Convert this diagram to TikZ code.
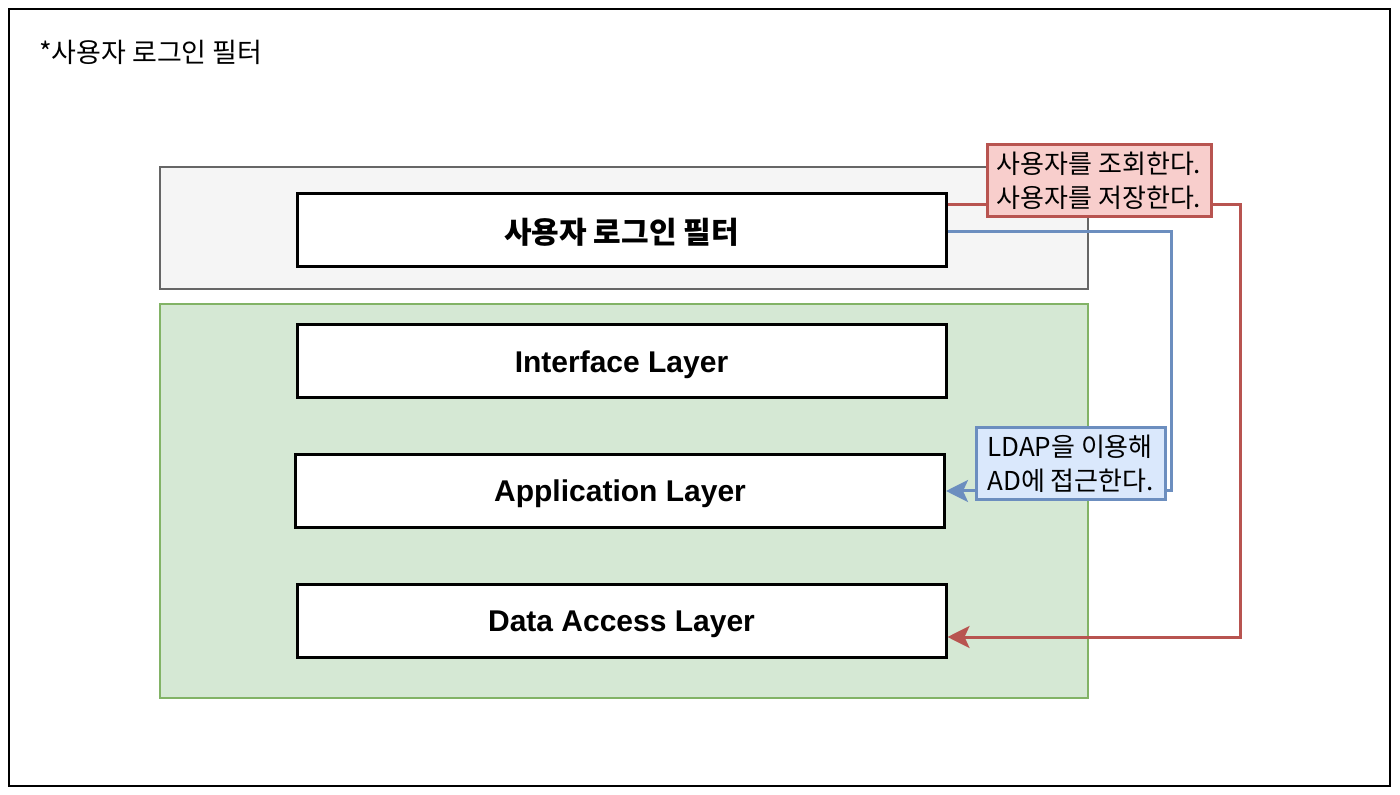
\documentclass[tikz,border=0pt]{standalone}
\usepackage{fontspec}
\setmainfont{Liberation Sans}
\newfontfamily\kr{Noto Sans CJK KR}
\usetikzlibrary{arrows.meta}

\definecolor{grayfill}{HTML}{F5F5F5}
\definecolor{graystroke}{HTML}{666666}
\definecolor{greenfill}{HTML}{D5E8D4}
\definecolor{greenstroke}{HTML}{82B366}
\definecolor{redfill}{HTML}{F8CECC}
\definecolor{redstroke}{HTML}{B85450}
\definecolor{bluefill}{HTML}{DAE8FC}
\definecolor{bluestroke}{HTML}{6C8EBF}

\begin{document}
\begin{tikzpicture}[x=0.5pt,y=-0.5pt,
  container/.style={shape=rectangle,line width=1.25pt,minimum width=464pt},
  layerbox/.style={shape=rectangle,draw=black,line width=1.5pt,fill=white,minimum width=324.5pt,minimum height=36.5pt,text depth=0pt,font=\bfseries\fontsize{15}{18}\selectfont},
  note/.style={shape=rectangle,line width=1.5pt,align=left,inner sep=2pt,font=\kr\fontsize{13}{17}\selectfont},
  link/.style={line width=1.5pt,-{Stealth[length=11pt,width=11pt,inset=2.5pt]}}]
\useasboundingbox (0,0) rectangle (1400,795);
\draw[line width=1pt] (9,9) rectangle (1390,786);

\node[anchor=west,font=\kr\fontsize{13.5}{17}\selectfont] (title) at (32,52) {*사용자 로그인 필터};

\node[container,draw=graystroke,fill=grayfill,minimum height=61pt] (filterLayer) at (624,228) {};
\node[container,draw=greenstroke,fill=greenfill,minimum height=197pt] (appLayers) at (624,501) {};

\node[layerbox,font=\kr\bfseries\fontsize{15}{18}\selectfont] (filter) at (621.5,230.5) {사용자 로그인 필터};
\node[layerbox] (iface) at (621.5,361.5) {Interface Layer};
\node[layerbox] (app) at (620,491) {Application Layer};
\node[layerbox] (dal) at (621.5,621) {Data Access Layer};

% filter -> data access
\coordinate (redX) at (1240,400);
\draw[link,redstroke] ([yshift=12.75pt]filter.east) -| (redX) |- ([yshift=-8pt]dal.east);
% filter -> application
\coordinate (blueX) at (1171,400);
\draw[link,bluestroke] ([yshift=-0.75pt]filter.east) -| (blueX) |- (app.east);

\node[note,draw=redstroke,fill=redfill,minimum width=112pt,minimum height=36pt] (redNote) at (1099,181) {사용자를 조회한다.\\사용자를 저장한다.};
\node[note,draw=bluestroke,fill=bluefill,minimum width=94.5pt,minimum height=36pt] (blueNote) at (1070.5,464) {LDAP을 이용해\\AD에 접근한다.};
\end{tikzpicture}
\end{document}
